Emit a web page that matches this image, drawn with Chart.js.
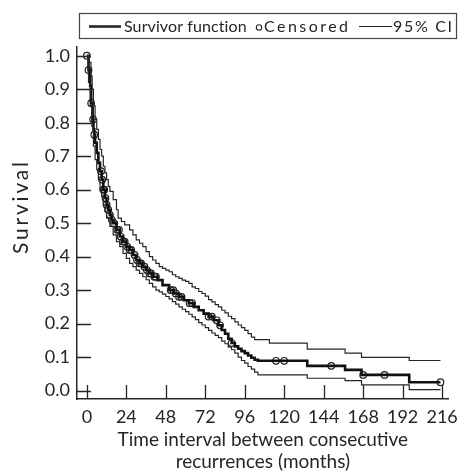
<!DOCTYPE html>
<html>
<head>
<meta charset="utf-8">
<script src="https://cdn.jsdelivr.net/npm/chart.js@4.4.1/dist/chart.umd.min.js"></script>
<style>
html,body{margin:0;padding:0;background:#fff;}
#wrap{width:465px;height:475px;}
</style>
</head>
<body>
<div id="wrap"><canvas id="c" width="465" height="475"></canvas></div>
<script>
// ---- data ----
const xTickValues = [0, 24, 48, 72, 96, 120, 144, 168, 192, 216];
const yTickValues = [0, 0.1, 0.2, 0.3, 0.4, 0.5, 0.6, 0.7, 0.8, 0.9, 1.0];

const kmTime = [0, 1, 2, 2.6, 3.5, 4, 4.5, 5, 6, 7, 8, 9, 10, 11, 12, 13, 14, 15, 16, 18, 20, 22, 24, 26, 28, 30, 32, 34, 36, 38, 40, 43, 46, 50, 53, 56, 59, 62, 65, 68, 71, 74, 77, 80, 82, 84, 86, 88, 90, 92, 94, 96, 98, 100, 102, 104, 134, 157, 167, 196, 215];
const kmSurv = [1.0, 0.957, 0.91, 0.858, 0.81, 0.78, 0.764, 0.74, 0.71, 0.68, 0.655, 0.63, 0.60, 0.575, 0.555, 0.54, 0.525, 0.51, 0.50, 0.48, 0.46, 0.445, 0.43, 0.42, 0.405, 0.39, 0.38, 0.37, 0.36, 0.35, 0.34, 0.33, 0.315, 0.30, 0.29, 0.28, 0.27, 0.261, 0.25, 0.24, 0.23, 0.221, 0.21, 0.195, 0.181, 0.17, 0.155, 0.142, 0.132, 0.125, 0.118, 0.112, 0.105, 0.098, 0.092, 0.089, 0.074, 0.062, 0.047, 0.025, 0.025];

const upperTime = [0, 1.5, 2.5, 3.2, 4, 5, 6, 7, 8, 9, 10, 11, 12, 13, 14, 16, 18, 19, 21, 23, 26, 28, 30, 32, 34, 36, 38, 40, 42, 44, 46, 48, 50, 52, 54, 56, 58, 60, 62, 64, 66, 68, 70, 72, 74, 76, 78, 80, 82, 84, 86, 88, 90, 92, 94, 96, 98, 100, 102, 111, 134, 157, 167, 196, 215];
const upperSurv = [1.0, 0.98, 0.94, 0.90, 0.85, 0.81, 0.78, 0.75, 0.72, 0.70, 0.67, 0.65, 0.63, 0.61, 0.595, 0.57, 0.54, 0.515, 0.505, 0.495, 0.48, 0.465, 0.45, 0.44, 0.43, 0.415, 0.40, 0.39, 0.38, 0.37, 0.365, 0.36, 0.355, 0.346, 0.34, 0.335, 0.33, 0.326, 0.32, 0.31, 0.305, 0.296, 0.29, 0.282, 0.272, 0.265, 0.257, 0.25, 0.24, 0.232, 0.222, 0.215, 0.205, 0.196, 0.188, 0.18, 0.17, 0.16, 0.152, 0.142, 0.124, 0.112, 0.099, 0.09, 0.09];

const lowerTime = [0, 1, 2, 3, 4, 5, 6, 7, 8, 9, 10, 11, 12, 14, 16, 18, 20, 22, 24, 26, 28, 30, 32, 34, 36, 38, 40, 42, 44, 46, 48, 50, 52, 54, 56, 58, 60, 62, 64, 66, 68, 70, 72, 74, 76, 78, 80, 82, 84, 86, 88, 90, 92, 94, 96, 98, 100, 102, 104, 134, 157, 167, 196, 215];
const lowerSurv = [1.0, 0.92, 0.85, 0.79, 0.73, 0.69, 0.66, 0.63, 0.60, 0.58, 0.555, 0.535, 0.515, 0.49, 0.465, 0.445, 0.43, 0.41, 0.395, 0.38, 0.37, 0.36, 0.35, 0.34, 0.331, 0.32, 0.31, 0.30, 0.295, 0.288, 0.281, 0.274, 0.266, 0.258, 0.25, 0.243, 0.236, 0.228, 0.22, 0.212, 0.203, 0.196, 0.188, 0.18, 0.172, 0.165, 0.158, 0.148, 0.14, 0.13, 0.122, 0.112, 0.10, 0.09, 0.082, 0.072, 0.064, 0.055, 0.047, 0.037, 0.03, 0.017, 0.003, 0.003];

const censTime = [0, 1, 2.6, 3.8, 4.5, 8.6, 9.3, 10, 10.6, 11.3, 12, 13, 14, 15.2, 16.5, 18.5, 19.5, 20.5, 22, 23, 24.5, 26, 27, 29, 30.5, 32, 33, 35, 36.5, 38, 39, 41, 42, 51, 52.5, 54, 56, 57.5, 62.5, 64, 74, 76, 79, 81, 88, 115, 120, 148.6, 168, 181, 215];
const censSurv = [1.0, 0.957, 0.858, 0.81, 0.764, 0.655, 0.63, 0.60, 0.60, 0.575, 0.555, 0.54, 0.525, 0.51, 0.50, 0.48, 0.48, 0.46, 0.445, 0.445, 0.43, 0.42, 0.42, 0.405, 0.39, 0.38, 0.38, 0.37, 0.36, 0.35, 0.35, 0.34, 0.34, 0.30, 0.30, 0.29, 0.28, 0.28, 0.261, 0.261, 0.221, 0.221, 0.21, 0.195, 0.142, 0.089, 0.089, 0.074, 0.047, 0.047, 0.025];

const legendLabels = ['Survivor function', 'Censored', '95% CI'];
const xTitle = ['Time interval between consecutive', 'recurrences (months)'];
const yTitle = 'Survival';

// ---- build ----
const FONT = 'Lato, "Open Sans", sans-serif';
const INK = '#262626';
const pts = (xs, ys) => xs.map((x, i) => ({x: x, y: ys[i]}));

// draw text widened to a target width with letter spacing
function spacedText(ctx, text, x, y, targetW, align) {
  ctx.letterSpacing = '0px';
  const w = ctx.measureText(text).width;
  const n = Math.max(1, text.length - 1);
  const sp = Math.max(0, (targetW - w) / n);
  ctx.letterSpacing = sp.toFixed(2) + 'px';
  const tw = w + sp * n;
  const x0 = align === 'center' ? x - tw / 2 : x;
  ctx.textAlign = 'left';
  ctx.fillText(text, x0, y);
  ctx.letterSpacing = '0px';
}

const tickPlugin = {
  id: 'innerTicks',
  afterDraw(chart) {
    const ctx = chart.ctx, xs = chart.scales.x, ys = chart.scales.y;
    const a = chart.chartArea;
    ctx.save();
    ctx.strokeStyle = INK; ctx.lineWidth = 1.3;
    ctx.beginPath();
    xTickValues.forEach(v => { const p = Math.round(xs.getPixelForValue(v)) + 0.5; ctx.moveTo(p, a.bottom); ctx.lineTo(p, a.bottom - 14); });
    yTickValues.forEach(v => { const p = Math.round(ys.getPixelForValue(v)) + 0.5; ctx.moveTo(a.left, p); ctx.lineTo(a.left + 14, p); });
    ctx.stroke();
    // legend
    const L = 79.5, T = 13.5, W = 377, H = 25, cy = 26.5;
    ctx.lineWidth = 1.2; ctx.strokeStyle = '#444';
    ctx.strokeRect(L, T, W, H);
    ctx.strokeStyle = INK; ctx.fillStyle = INK;
    ctx.lineWidth = 2.6; ctx.beginPath(); ctx.moveTo(89, cy); ctx.lineTo(121, cy); ctx.stroke();
    ctx.font = '16px ' + FONT; ctx.textBaseline = 'middle';
    spacedText(ctx, legendLabels[0], 124, cy, 123, 'left');
    ctx.lineWidth = 1.1; ctx.beginPath(); ctx.arc(259, cy + 1, 2.7, 0, Math.PI * 2); ctx.stroke();
    spacedText(ctx, legendLabels[1], 264, cy, 84, 'left');
    ctx.lineWidth = 1.2; ctx.beginPath(); ctx.moveTo(359, cy); ctx.lineTo(392, cy); ctx.stroke();
    spacedText(ctx, legendLabels[2], 393, cy, 59, 'left');
    // y axis title
    ctx.save();
    ctx.translate(21, 208);
    ctx.rotate(-Math.PI / 2);
    ctx.font = '21px ' + FONT; ctx.textBaseline = 'middle';
    spacedText(ctx, yTitle, 0, 0, 92, 'center');
    ctx.restore();
    ctx.restore();
  }
};

new Chart(document.getElementById('c'), {
  type: 'line',
  data: {
    datasets: [
      {label: 'Upper', data: pts(upperTime, upperSurv), stepped: 'before', borderColor: INK, borderWidth: 1.2, pointRadius: 0, fill: false},
      {label: 'Lower', data: pts(lowerTime, lowerSurv), stepped: 'before', borderColor: INK, borderWidth: 1.2, pointRadius: 0, fill: false},
      {label: 'Survivor function', data: pts(kmTime, kmSurv), stepped: 'before', borderColor: '#111', borderWidth: 2.6, pointRadius: 0, fill: false},
      {label: 'Censored', data: pts(censTime, censSurv), showLine: false, pointStyle: 'circle', pointRadius: 3.3, pointBorderWidth: 1.2, pointBorderColor: '#222', pointBackgroundColor: 'rgba(255,255,255,0)'}
    ]
  },
  options: {
    responsive: false, animation: false, devicePixelRatio: 1,
    layout: {padding: {top: 47, right: 13, left: 0, bottom: 0}},
    plugins: {legend: {display: false}, tooltip: {enabled: false}},
    scales: {
      x: {
        type: 'linear', min: -6, max: 220,
        afterBuildTicks: s => { s.ticks = xTickValues.map(v => ({value: v})); },
        afterFit: s => { s.height = 76; },
        grid: {display: false, drawTicks: false},
        border: {display: true, color: INK, width: 1.5},
        ticks: {padding: 7, color: INK, font: {family: FONT, size: 18}, maxRotation: 0, autoSkip: false, callback: v => String(v)},
        title: {display: true, text: xTitle, color: INK, font: {family: FONT, size: 19, lineHeight: 1.15}, padding: {top: 6, bottom: 2}}
      },
      y: {
        type: 'linear', min: -0.025, max: 1.026,
        afterBuildTicks: s => { s.ticks = yTickValues.map(v => ({value: v})); },
        afterFit: s => { s.width = 77; },
        grid: {display: false, drawTicks: false},
        border: {display: true, color: INK, width: 1.5},
        ticks: {padding: 7, color: INK, font: {family: FONT, size: 18}, callback: v => v.toFixed(1)},
        title: {display: false}
      }
    }
  },
  plugins: [tickPlugin]
});
</script>
</body>
</html>
